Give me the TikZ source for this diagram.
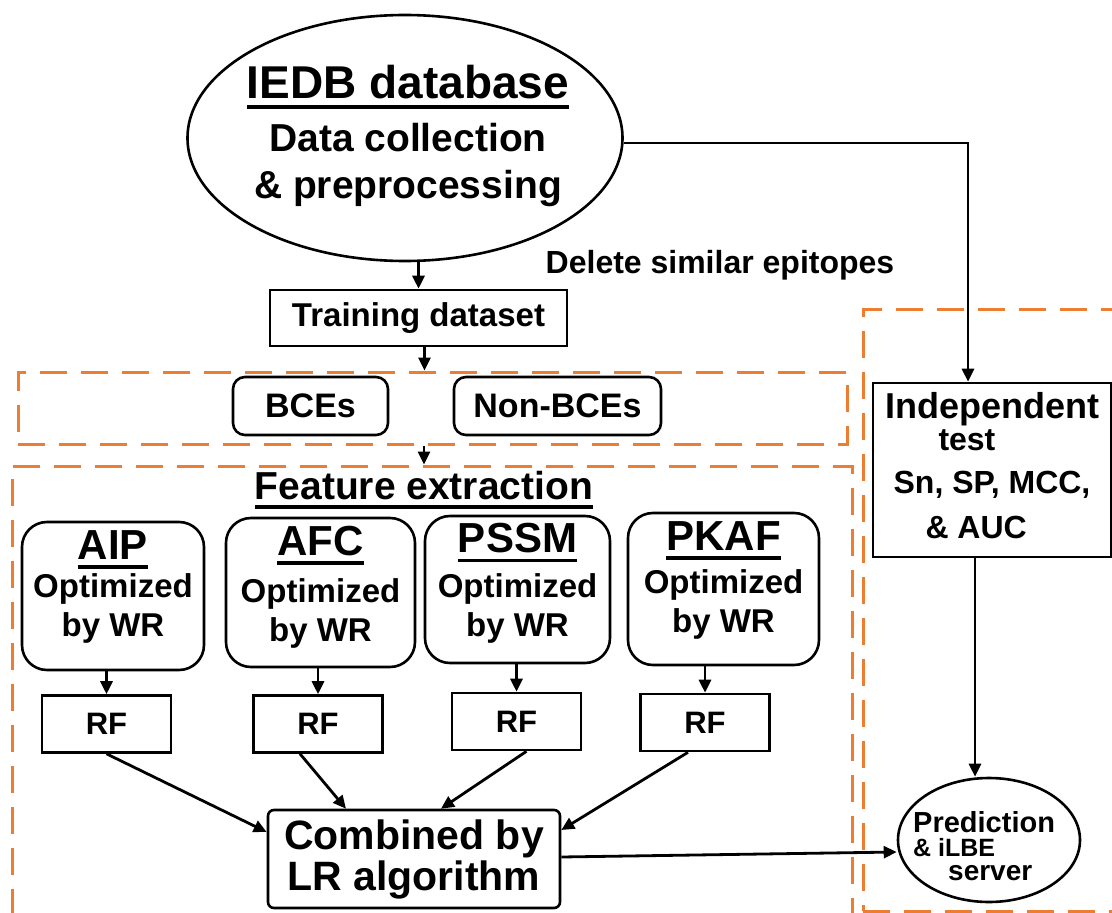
\documentclass[tikz,border=0pt]{standalone}
\usepackage{fontspec}
\setmainfont{Liberation Sans}
\usetikzlibrary{shapes.geometric,arrows.meta}
\definecolor{myorange}{RGB}{237,125,49}
\newcommand{\ultext}[1]{\setbox0\hbox{#1}\rlap{\rule[-0.23em]{\wd0}{0.09em}}\box0}

\tikzset{
    blk/.style={draw, line width=2.6pt},
    arr/.style={line width=2.8pt, -{Triangle[length=13pt,width=12pt]}},
    grp/.style={draw=myorange, line width=3pt, dash pattern=on 27pt off 14pt},
    featbox/.style={blk, rounded corners=25pt, align=center, inner xsep=2pt,
        font=\bfseries\fontsize{33}{39}\selectfont},
    rfbox/.style={blk, minimum width=129pt, minimum height=57pt,
        font=\bfseries\fontsize{31}{31}\selectfont},
    pill/.style={blk, rounded corners=12pt, minimum height=58pt,
        font=\bfseries\fontsize{34}{34}\selectfont},
}

\begin{document}
\begin{tikzpicture}[x=1pt, y=-1pt]
    \clip (0,0) rectangle (1112,913);

    % Dashed frames
    \node[grp, minimum width=829pt, minimum height=72pt] (grpsplit) at (432.5,408) {};
    \node[grp, minimum width=840pt, minimum height=480pt] (grpfeat) at (432,706) {};
    \node[grp, minimum width=262pt, minimum height=602pt] (grptest) at (994,610) {};

    % Database
    \node[blk, ellipse, minimum width=435pt, minimum height=246pt] (iedb) at (405,138) {};
    \node[align=center, inner sep=0pt, font=\bfseries\fontsize{39}{47}\selectfont] (iedbtext) at (408,136)
        {{\fontsize{46}{46}\selectfont\ultext{IEDB database}}\\[6pt] Data collection\\ \& preprocessing};
    \node[font=\bfseries\fontsize{32}{32}\selectfont] (dellbl) at (720,265) {Delete similar epitopes};

    % Training data
    \node[blk, minimum width=297pt, minimum height=56pt, font=\bfseries\fontsize{33}{33}\selectfont] (train) at (418.5,318) {Training dataset};
    \node[pill, minimum width=155pt] (bce) at (310.5,406) {BCEs};
    \node[pill, minimum width=207pt] (nonbce) at (557.5,406) {Non-BCEs};

    % Feature extraction
    \node[font=\bfseries\fontsize{39}{39}\selectfont] (feattitle) at (424,490) {\ultext{Feature extraction}};
    \node[featbox, minimum width=182pt, minimum height=148pt] (aip) at (113,596)
        {{\fontsize{42}{42}\selectfont\ultext{AIP}}\\[-1pt] Optimized\\ by WR\rule[-25pt]{0pt}{25pt}};
    \node[featbox, minimum width=189pt, minimum height=149pt] (afc) at (320.5,592.5)
        {{\fontsize{42}{42}\selectfont\ultext{AFC}}\\[8pt] Optimized\\ by WR\rule[-18pt]{0pt}{18pt}};
    \node[featbox, minimum width=185pt, minimum height=147pt] (pssm) at (517.5,589.5)
        {{\fontsize{42}{42}\selectfont\ultext{PSSM}}\\[6pt] Optimized\\ by WR\rule[-19pt]{0pt}{19pt}};
    \node[featbox, minimum width=191pt, minimum height=152pt] (pkaf) at (723.5,589)
        {{\fontsize{42}{42}\selectfont\ultext{PKAF}}\\[4pt] Optimized\\ by WR\rule[-24pt]{0pt}{24pt}};

    % Classifiers
    \node[rfbox] (rf1) at (106.5,724) {RF};
    \node[rfbox] (rf2) at (318,724) {RF};
    \node[rfbox] (rf3) at (516.5,721.5) {RF};
    \node[rfbox] (rf4) at (705,722.5) {RF};
    \node[blk, rounded corners=6pt, minimum width=292pt, minimum height=98pt, align=center,
        font=\bfseries\fontsize{41}{41}\selectfont] (comb) at (414,859) {Combined by\\ LR algorithm};

    % Independent test
    \node[blk, minimum width=238pt, minimum height=174pt, inner xsep=4pt, align=center,
        font=\bfseries\fontsize{32}{32}\selectfont] (indep) at (992,470)
        {{\fontsize{36}{36}\selectfont Independent}\\ \makebox[107pt][l]{test}\\[11pt]
         Sn, SP, MCC,\\[13pt] \makebox[133pt][l]{\& AUC}\rule[-10pt]{0pt}{10pt}};
    \node[blk, ellipse, minimum width=182pt, minimum height=124pt] (pred) at (989,840) {};
    \node[anchor=north west, align=left, inner sep=0pt, font=\bfseries\fontsize{28}{24}\selectfont] (predtext) at (913,811)
        {{\fontsize{29}{24}\selectfont Prediction}\\ {\fontsize{25}{24}\selectfont\& iLBE}\\ \hspace*{35pt}server};

    % Connectors
    \draw[arr] (train.north |- iedb.south) -- (train.north);
    \draw[arr] ([xshift=6pt]train.south) -- ([xshift=6pt]train.south |- grpsplit.north);
    \draw[arr] (grpsplit.south -| feattitle.north) -- (grpfeat.north -| feattitle.north);
    \draw[arr] (aip.south -| rf1.north) -- (rf1.north);
    \draw[arr] (afc.south -| rf2.north) -- (rf2.north);
    \draw[arr] (pssm.south -| rf3.north) -- (rf3.north);
    \draw[arr] (pkaf.south -| rf4.north) -- (rf4.north);
    \draw[arr] (rf1.south) -- ([yshift=27pt]comb.west);
    \draw[arr] ([xshift=-18pt]rf2.south) -- ([xshift=-68pt]comb.north);
    \draw[arr] ([xshift=10pt]rf3.south) -- ([xshift=27pt]comb.north);
    \draw[arr] ([xshift=-17pt]rf4.south) -- ([yshift=29pt]comb.east);
    \draw[arr] ([yshift=-5pt]iedb.east) -| ([xshift=-24pt]indep.north);
    \draw[arr] ([xshift=-17pt]indep.south) -- ([xshift=-17pt]indep.south |- pred.north);
    \draw[arr] ([yshift=2pt]comb.east) -- ([yshift=-12pt]pred.west);
\end{tikzpicture}
\end{document}
